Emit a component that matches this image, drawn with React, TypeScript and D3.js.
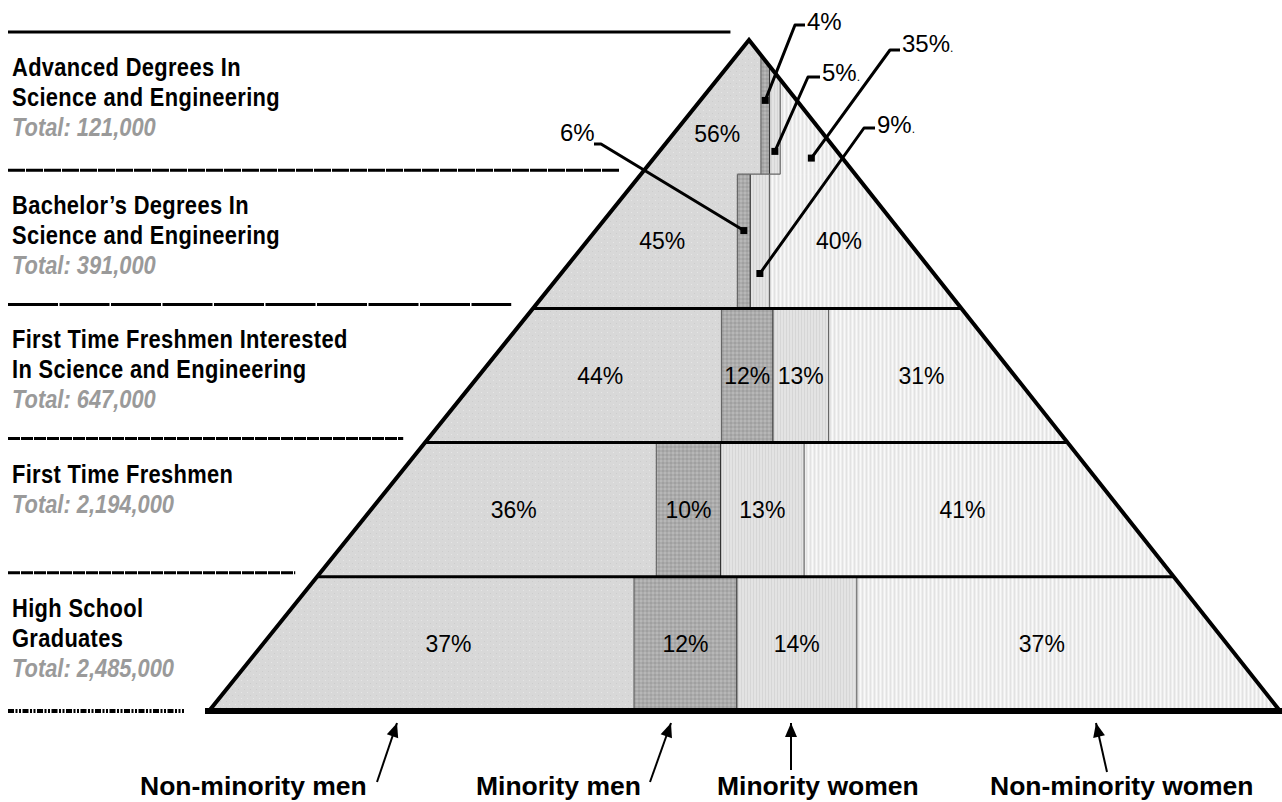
import React from "react";
import * as d3 from "d3";

// ---------- data ----------
const categories = ["Non-minority men", "Minority men", "Minority women", "Non-minority women"];
const stageLines = [
  ["Advanced Degrees In", "Science and Engineering"],
  ["Bachelor\u2019s Degrees In", "Science and Engineering"],
  ["First Time Freshmen Interested", "In Science and Engineering"],
  ["First Time Freshmen"],
  ["High School", "Graduates"],
];
const totals = ["121,000", "391,000", "647,000", "2,194,000", "2,485,000"];
const nonMinorityMen = [56, 45, 44, 36, 37];
const minorityMen = [4, 6, 12, 10, 12];
const minorityWomen = [5, 9, 13, 13, 14];
const nonMinorityWomen = [35, 40, 31, 41, 37];

// ---------- layout / style ----------
const W = 1282;
const H = 802;
const apex = { x: 749, y: 40 };
const baseY = 711;
const baseL = 209;
const baseR = 1280;
const fills = ["url(#pNmm)", "url(#pMm)", "url(#pMw)", "url(#pNmw)"];
const leftLineDash = ["none", "17 1", "50 1.5", "12 1", "12 1", "6 1.5 2 1.5 2 1.5"];
const plainFont = "'Liberation Sans', Arial, Helvetica, sans-serif";
const narrowScale = 0.875;

// callouts for slices too thin to carry their own label
const callouts = [
  { row: 0, seg: 1, tx: 807, ty: 30, ly: 25, lx0: 805, lx1: 795, ef: 0.45, dot: false },
  { row: 0, seg: 2, tx: 822, ty: 81, ly: 77, lx0: 820, lx1: 808, ef: 0.83, dot: true },
  { row: 0, seg: 3, tx: 902, ty: 52, ly: 50, lx0: 900, lx1: 890, ef: 0.88, dot: true },
  { row: 1, seg: 1, tx: 560, ty: 141, ly: 144, lx0: 594, lx1: 601, ef: 0.42, dot: false },
  { row: 1, seg: 2, tx: 877, ty: 133, ly: 128, lx0: 875, lx1: 864, ef: 0.74, dot: true },
];

const legendLayout = [
  { tx: 140, tip: [397, 723], tail: [377, 782] },
  { tx: 476, tip: [671, 723], tail: [650, 782] },
  { tx: 717, tip: [791, 723], tail: [791, 770] },
  { tx: 990, tip: [1096, 723], tail: [1107, 772] },
];

function arrowHead(tip: number[], tail: number[], len = 14, half = 6) {
  const dx = tail[0] - tip[0];
  const dy = tail[1] - tip[1];
  const d = Math.hypot(dx, dy);
  const ux = dx / d, uy = dy / d;
  const bx = tip[0] + ux * len, by = tip[1] + uy * len;
  const px = -uy * half, py = ux * half;
  return `M${tip[0]},${tip[1]}L${bx + px},${by + py}L${bx - px},${by - py}Z`;
}

export default function App() {
  const series = [nonMinorityMen, minorityMen, minorityWomen, nonMinorityWomen];
  const nRows = stageLines.length;
  const yScale = d3.scaleLinear().domain([0, nRows]).range([apex.y, baseY]);
  const leftEdge = d3.scaleLinear().domain([apex.y, baseY]).range([apex.x, baseL]);
  const rightEdge = d3.scaleLinear().domain([apex.y, baseY]).range([apex.x, baseR]);

  const rows = stageLines.map((_, i) => {
    const values = series.map((s) => s[i]);
    const top = yScale(i);
    const bottom = yScale(i + 1);
    const refY = i === 0 ? bottom : top;
    const x = d3
      .scaleLinear()
      .domain([0, d3.sum(values)])
      .range([leftEdge(refY), rightEdge(refY)]);
    const cum = Array.from(d3.cumsum(values));
    const b = [0, ...cum].map((v) => x(v));
    return { i, values, top, bottom, b };
  });

  const segCenter = (r: any, j: number, y: number) => {
    const x0 = j === 0 ? leftEdge(y) : r.b[j];
    const x1 = j === 3 ? rightEdge(y) : r.b[j + 1];
    return (x0 + x1) / 2;
  };

  const pyramid = d3.line()([
    [apex.x, apex.y],
    [baseR, baseY],
    [baseL, baseY],
  ]) + "Z";

  const calloutSet = new Set(callouts.map((c) => `${c.row}-${c.seg}`));

  const lineY = (i: number) => (i === 0 ? apex.y - 8 : i === nRows ? baseY : yScale(i) - 4);
  const lineEnd = (y: number) => leftEdge(y) - 25;

  return (
    <svg
      width={W}
      height={H}
      viewBox={`0 0 ${W} ${H}`}
      style={{ position: "absolute", left: 0, top: 0, background: "#fff" }}
    >
      <defs>
        <pattern id="pNmm" width="6" height="6" patternUnits="userSpaceOnUse">
          <rect width="6" height="6" fill="#d8d8d8" />
          <rect x="1" y="2" width="1" height="1" fill="#e6e6e6" />
          <rect x="4" y="5" width="1" height="1" fill="#cccccc" />
        </pattern>
        <pattern id="pMm" width="4" height="4" patternUnits="userSpaceOnUse">
          <rect width="4" height="4" fill="#ababab" />
          <rect x="0" y="0" width="2" height="2" fill="#b7b7b7" />
          <rect x="2" y="2" width="2" height="2" fill="#a0a0a0" />
        </pattern>
        <pattern id="pMw" width="3" height="4" patternUnits="userSpaceOnUse">
          <rect width="3" height="4" fill="#e3e3e3" />
          <rect x="0" y="0" width="1" height="4" fill="#d6d6d6" />
        </pattern>
        <pattern id="pNmw" width="4" height="4" patternUnits="userSpaceOnUse">
          <rect width="4" height="4" fill="#eeeeee" />
          <rect x="0" y="0" width="1" height="4" fill="#f9f9f9" />
          <rect x="2" y="0" width="1" height="4" fill="#e2e2e2" />
        </pattern>
        <clipPath id="pyrClip">
          <path d={pyramid} />
        </clipPath>
      </defs>

      {/* left stage labels and rules */}
      {d3.range(nRows + 1).map((i) => {
        const y = lineY(i);
        return (
          <line
            key={`rule${i}`}
            x1={8}
            x2={lineEnd(y)}
            y1={y}
            y2={y}
            stroke="#000"
            strokeWidth={i === nRows ? 4 : 3}
            strokeDasharray={leftLineDash[i]}
          />
        );
      })}
      {stageLines.map((lines, i) => {
        const y0 = lineY(i) + 44;
        return (
          <g key={`lab${i}`} fontFamily={plainFont} fontWeight="bold" fontSize={25}>
            {lines.map((t, k) => (
              <text
                key={k}
                transform={`translate(12,${y0 + k * 30}) scale(${narrowScale},1)`}
                letterSpacing={0.4}
                fill="#000"
              >
                {t}
              </text>
            ))}
            <text
              transform={`translate(12,${y0 + lines.length * 30}) scale(${narrowScale},1)`}
              fontStyle="italic"
              fill="#9a9a9a"
            >
              {`Total: ${totals[i]}`}
            </text>
          </g>
        );
      })}

      {/* pyramid segments */}
      <g clipPath="url(#pyrClip)">
        {rows.map((r) =>
          r.values.map((v, j) => {
            const x0 = j === 0 ? baseL - 20 : r.b[j];
            const x1 = j === 3 ? baseR + 20 : r.b[j + 1];
            return (
              <rect
                key={`s${r.i}-${j}`}
                x={x0}
                y={r.top}
                width={x1 - x0}
                height={r.bottom - r.top + 0.5}
                fill={fills[j]}
              />
            );
          })
        )}
        {rows.map((r) =>
          [1, 2, 3].map((j) => (
            <line
              key={`v${r.i}-${j}`}
              x1={r.b[j]}
              x2={r.b[j]}
              y1={r.top}
              y2={r.bottom}
              stroke={j === 2 ? "#333" : "#666"}
              strokeWidth={1.2}
            />
          ))
        )}
        {/* thin step line between the two degree tiers */}
        <line
          x1={rows[1].b[1]}
          x2={Math.max(rows[0].b[3], rows[1].b[3])}
          y1={rows[1].top}
          y2={rows[1].top}
          stroke="#666"
          strokeWidth={1.2}
        />
      </g>
      {rows.slice(2).map((r) => (
        <line
          key={`h${r.i}`}
          x1={leftEdge(r.top)}
          x2={rightEdge(r.top)}
          y1={r.top}
          y2={r.top}
          stroke="#000"
          strokeWidth={3}
        />
      ))}
      <path
        d={d3.line()([
          [baseL, baseY],
          [apex.x, apex.y],
          [baseR, baseY],
        ]) as string}
        fill="none"
        stroke="#000"
        strokeWidth={4}
        strokeLinejoin="miter"
      />
      <line x1={205} x2={W} y1={baseY} y2={baseY} stroke="#000" strokeWidth={6} />

      {/* in-slice labels */}
      <g fontFamily={plainFont} fontSize={23} fill="#000" textAnchor="middle">
        {rows.map((r) =>
          r.values.map((v, j) => {
            if (calloutSet.has(`${r.i}-${j}`)) return null;
            const f = r.i === 0 ? 0.7 : 0.5;
            const yc = r.top + f * (r.bottom - r.top);
            return (
              <text key={`t${r.i}-${j}`} x={segCenter(r, j, yc)} y={yc + 8}>
                {`${v}%`}
              </text>
            );
          })
        )}
      </g>

      {/* callouts */}
      {callouts.map((c, k) => {
        const r = rows[c.row];
        const ey = r.top + c.ef * (r.bottom - r.top);
        const ex = segCenter(r, c.seg, ey);
        const path = d3.line()([
          [c.lx0, c.ly],
          [c.lx1, c.ly],
          [ex, ey],
        ]) as string;
        return (
          <g key={`c${k}`}>
            <path d={path} fill="none" stroke="#000" strokeWidth={3} strokeLinejoin="round" />
            <rect x={ex - 3.5} y={ey - 3.5} width={7} height={7} fill="#000" />
            <text x={c.tx} y={c.ty} fontFamily={plainFont} fontSize={24} fill="#000">
              {`${r.values[c.seg]}%`}
              {c.dot ? <tspan fontSize={12}>.</tspan> : null}
            </text>
          </g>
        );
      })}

      {/* bottom legend */}
      {categories.map((name, k) => {
        const L = legendLayout[k];
        return (
          <g key={`lg${k}`}>
            <line
              x1={L.tail[0]}
              y1={L.tail[1]}
              x2={L.tip[0]}
              y2={L.tip[1]}
              stroke="#000"
              strokeWidth={2}
            />
            <path d={arrowHead(L.tip, L.tail)} fill="#000" />
            <text
              x={L.tx}
              y={795}
              fontFamily={plainFont}
              fontWeight="bold"
              fontSize={26.5}
              fill="#000"
            >
              {name}
            </text>
          </g>
        );
      })}
    </svg>
  );
}
